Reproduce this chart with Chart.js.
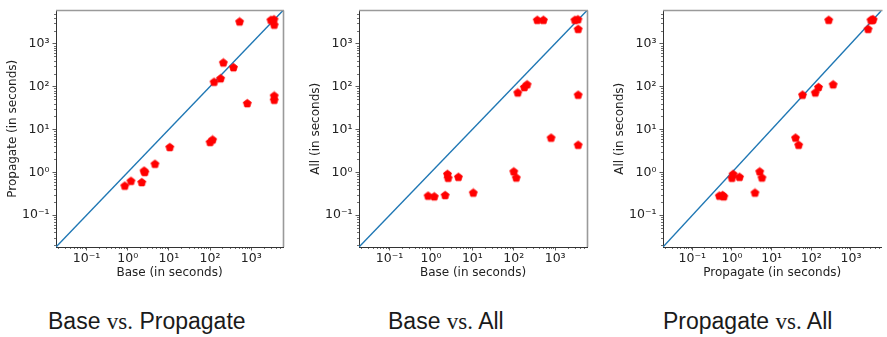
<!DOCTYPE html>
<html><head><meta charset="utf-8">
<script src="https://cdn.jsdelivr.net/npm/chart.js@4.4.0/dist/chart.umd.min.js"></script>
<style>
html,body{margin:0;padding:0;background:#fff;width:887px;height:337px;overflow:hidden;position:relative}
.panel{position:absolute;top:0;height:290px}
.panel canvas{display:block}
.cap{position:absolute;top:310px;font-family:"Liberation Sans",sans-serif;font-size:23px;line-height:23px;color:#1a1a1a;white-space:nowrap}
.cap .vs{font-family:"Liberation Serif",serif}
</style>
</head><body>
<div class="panel" style="left:0px;width:290px"><canvas id="c1" width="290" height="290"></canvas></div>
<div class="panel" style="left:303px;width:292px"><canvas id="c2" width="292" height="290"></canvas></div>
<div class="panel" style="left:607px;width:280px"><canvas id="c3" width="280" height="290"></canvas></div>
<div class="cap" id="cap1" style="left:48px">Base <span class="vs">vs.</span> Propagate</div>
<div class="cap" id="cap2" style="left:388px">Base <span class="vs">vs.</span> All</div>
<div class="cap" id="cap3" style="left:663px">Propagate <span class="vs">vs.</span> All</div>
<script>
// ---- data ----
const AXIS_MIN = 0.0182;
const AXIS_MAX = 5890;
const MAJOR_TICKS = [0.1, 1, 10, 100, 1000];
const TICK_LABELS = ['10\u207B\u00B9', '10\u2070', '10\u00B9', '10\u00B2', '10\u00B3'];
const baseTimes      = [0.85, 1.2, 2.2, 2.5, 2.6, 4.6, 10.5, 100, 115, 125, 180, 210, 370, 520, 800, 3000, 3550, 3600, 3600, 3600];
const propagateTimes = [0.48, 0.62, 0.58, 1.07, 1.0, 1.55, 3.8, 5.0, 5.7, 126, 152, 355, 275, 3200, 40, 3500, 3600, 2700, 60, 48];
const allTimes       = [0.28, 0.27, 0.29, 0.9, 0.73, 0.77, 0.33, 1.03, 0.74, 71, 95, 110, 3500, 3500, 6.3, 3500, 3600, 2150, 63, 4.3];
const diagonal = [AXIS_MIN, AXIS_MAX];

// ---- styles ----
function pentagon(r) {
  const s = Math.ceil(r * 2 + 2);
  const c = document.createElement('canvas');
  c.width = s; c.height = s;
  const g = c.getContext('2d');
  g.beginPath();
  for (let k = 0; k < 5; k++) {
    const a = -Math.PI / 2 + k * 2 * Math.PI / 5;
    const px = s / 2 + r * Math.cos(a), py = s / 2 + r * Math.sin(a);
    if (k === 0) g.moveTo(px, py); else g.lineTo(px, py);
  }
  g.closePath();
  g.fillStyle = '#ff0000'; g.fill();
  g.strokeStyle = '#ff0000'; g.lineWidth = 0.8; g.stroke();
  return c;
}
const marker = pentagon(4.2);

const framePlugin = {
  id: 'frame',
  afterDraw(chart, args, opts) {
    const {ctx, chartArea: a, scales: {x, y}} = chart;
    ctx.save();
    ctx.strokeStyle = '#333'; ctx.lineWidth = 0.7;
    ctx.beginPath();
    for (let n = -2; n <= 3; n++) {
      for (let k = 2; k <= 9; k++) {
        const v = k * Math.pow(10, n);
        if (v > x.min && v < x.max) {
          const px = Math.round(x.getPixelForValue(v)) + 0.5;
          ctx.moveTo(px, a.bottom); ctx.lineTo(px, a.bottom + 2);
        }
        if (v > y.min && v < y.max) {
          const py = Math.round(y.getPixelForValue(v)) + 0.5;
          ctx.moveTo(a.left - 2, py); ctx.lineTo(a.left, py);
        }
      }
    }
    ctx.stroke();
    ctx.strokeStyle = '#9a9a9a'; ctx.lineWidth = 1.6;
    ctx.beginPath();
    ctx.moveTo(a.left, a.top); ctx.lineTo(a.right + 1, a.top);
    if (opts.right) { ctx.moveTo(a.right + 0.5, a.top); ctx.lineTo(a.right + 0.5, a.bottom); }
    ctx.stroke();
    ctx.restore();
  }
};

const tickFont = {family: 'DejaVu Sans', size: 12.5};
const titleFont = {family: 'DejaVu Sans', size: 12};
function makeChart(id, xs, ys, xTitle, yTitle, rightPad, drawRight) {
  const points = xs.map((v, i) => ({x: v, y: ys[i]}));
  return new Chart(document.getElementById(id), {
    type: 'scatter',
    data: {datasets: [
      {data: points, pointStyle: marker, pointRadius: 4.5, pointHoverRadius: 4.5,
       backgroundColor: '#ff0000', borderColor: '#ff0000'},
      {type: 'line', data: diagonal.map(v => ({x: v, y: v})), borderColor: '#1f77b4',
       borderWidth: 1.4, pointRadius: 0, fill: false, showLine: true, tension: 0}
    ]},
    options: {
      responsive: false, animation: false, devicePixelRatio: 1, events: [],
      layout: {padding: {top: 5, right: rightPad, left: 0, bottom: 0}},
      plugins: {legend: {display: false}, tooltip: {enabled: false}, frame: {right: drawRight}},
      scales: {
        x: {
          type: 'logarithmic', min: AXIS_MIN, max: AXIS_MAX,
          afterBuildTicks: s => { s.ticks = MAJOR_TICKS.map(v => ({value: v})); },
          afterFit: s => { s.height = 43; },
          grid: {drawOnChartArea: false, drawTicks: true, tickLength: 3.5, color: '#333', tickWidth: 0.8},
          border: {display: true, color: '#333', width: 1},
          ticks: {autoSkip: false, maxRotation: 0, padding: 1, color: '#222', font: tickFont,
                  callback: v => TICK_LABELS[MAJOR_TICKS.indexOf(v)]},
          title: {display: true, text: xTitle, color: '#222', font: titleFont, padding: {top: 0, bottom: 10}}
        },
        y: {
          type: 'logarithmic', min: AXIS_MIN, max: AXIS_MAX,
          afterBuildTicks: s => { s.ticks = MAJOR_TICKS.map(v => ({value: v})); },
          afterFit: s => { s.width = 56; },
          grid: {drawOnChartArea: false, drawTicks: true, tickLength: 3.5, color: '#333', tickWidth: 0.8},
          border: {display: true, color: '#333', width: 1},
          ticks: {autoSkip: false, padding: 3, color: '#222', font: tickFont,
                  callback: v => TICK_LABELS[MAJOR_TICKS.indexOf(v)]},
          title: {display: true, text: yTitle, color: '#222', font: titleFont, padding: {top: 5.5, bottom: 0}}
        }
      }
    },
    plugins: [framePlugin]
  });
}

makeChart('c1', baseTimes, propagateTimes, 'Base (in seconds)', 'Propagate (in seconds)', 7, true);
makeChart('c2', baseTimes, allTimes, 'Base (in seconds)', 'All (in seconds)', 8, true);
makeChart('c3', propagateTimes, allTimes, 'Propagate (in seconds)', 'All (in seconds)', 1, false);
</script>
</body></html>
